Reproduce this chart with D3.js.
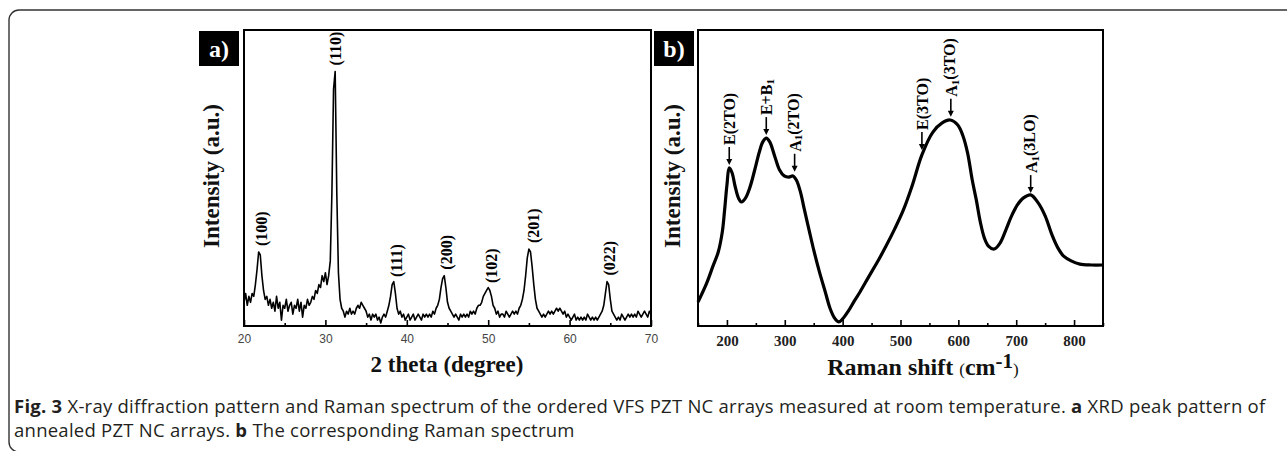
<!DOCTYPE html>
<html><head><meta charset="utf-8">
<script src="https://cdn.jsdelivr.net/npm/d3@7"></script>
<style>html,body{margin:0;padding:0;background:#fff;}svg{display:block;}</style>
</head><body>
<svg id="chart" width="1287" height="451"></svg>
<script>
// ---------- data ----------
const xrdStart = 20, xrdStep = 0.2;
const xrdIntensity = [
  8,11,7,10,8,11,10,14,19,25,
  24,17,12,9,10,7,9,6,8,5,
  10,6,8,2,7,6,9,5,7,8,
  4,7,6,9,5,8,3,7,6,9,
  7,8,10,9,12,11,14,13,17,15,
  18,14,17,22,45,80,86,45,18,9,
  6,5,3,5,4,6,4,5,4,6,
  7,6,8,7,6,5,3,4,2,4,
  3,4,2,3,1,3,4,3,5,7,
  10,14,15,11,6,4,5,3,4,2,
  3,4,2,3,4,2,3,4,3,2,
  4,3,4,3,4,3,5,4,6,7,
  9,13,16,17,13,8,6,5,4,3,
  4,3,2,4,3,4,3,4,3,5,
  4,5,4,6,7,7,8,10,11,12,
  13,12,10,7,6,4,5,3,4,4,
  3,5,4,3,4,5,4,5,4,6,
  7,9,12,17,23,26,25,20,14,9,
  6,5,4,3,4,3,4,5,4,5,
  4,5,6,5,6,5,4,5,3,4,
  3,2,3,4,2,3,2,3,2,3,
  2,4,3,2,3,2,3,2,3,4,
  5,7,11,15,14,9,5,4,3,2,
  3,2,4,3,2,3,4,3,4,3,
  4,3,5,4,3,4,5,4,3,5,
  4
];
const xrdPeakLabels = ["(100)","(110)","(111)","(200)","(102)","(201)","(022)"];
const xrdPeakPos    = [22.1, 31.2, 38.7, 44.9, 50.4, 55.6, 64.9];
const xrdPeakTop    = [25, 86, 14.5, 17, 12.5, 26, 15];
const xrdTicks = [20,30,40,50,60,70];
const xrdMinorTicks = [25,35,45,55,65];

const ramanShift = [150,165,176,185,192,196,200,204,209,214,220,225,232,240,248,256,262,268,274,283,291,299,307,314,320,327,334,342,350,360,370,378,386,393,400,410,420,430,445,460,475,490,505,520,537,556,572,586,599,608,616,624,631,638,645,652,662,672,682,692,702,712,725,738,750,762,772,782,795,810,830,850];
const ramanIntensity = [8.1,14.5,20.3,25,31.8,39.2,47.6,53.4,51.7,47.3,43.2,41.9,43.2,47,52.7,58.8,62.2,63.5,62.2,57.1,52.7,50.7,50.3,50.7,49.3,45.3,39.2,32.4,25.7,18.2,11.5,6.1,2.7,1.4,2.4,5.1,8.4,11.5,16.6,21.6,27,32.8,39.2,47.3,57.8,65.5,68.6,69.6,67.9,64.2,58.4,49.3,42.6,35.1,29.7,27,26,28,32.4,37.2,40.9,43.2,44.3,41.6,37.2,30.7,26.4,23.6,22,20.9,20.6,20.6];
const ramanMarkPos  = [204, 268, 317, 537, 587, 725];
const ramanMarkTop  = [54.4, 64.5, 52.1, 59.5, 70.7, 44.9];
const ramanLabelMain = ["E(2TO)","E+B","A","E(3TO)","A","A"];
const ramanLabelSub  = ["","1","1","","1","1"];
const ramanLabelRest = ["","","(2TO)","","(3TO)","(3LO)"];
const ramanTicks = [200,300,400,500,600,700,800];
const ramanMinorTicks = [150,250,350,450,550,650,750,850];

const captionLine1 = [["Fig. 3",true],[" X-ray diffraction pattern and Raman spectrum of the ordered VFS PZT NC arrays measured at room temperature. ",false],["a",true],[" XRD peak pattern of",false]];
const captionLine2 = [["annealed PZT NC arrays. ",false],["b",true],[" The corresponding Raman spectrum",false]];

// ---------- drawing ----------
const svg = d3.select("#chart");
const serif = "'Liberation Serif','Times New Roman',serif";

// outer frame
svg.append("rect").attr("x",9).attr("y",10).attr("width",1400).attr("height",442)
  .attr("rx",10).attr("fill","none").attr("stroke","#333").attr("stroke-width",1.4);

const yTop = 30, yBot = 326;

function panel(opts){
  const g = svg.append("g");
  const x = d3.scaleLinear().domain(opts.domain).range([opts.left, opts.right]);
  const y = d3.scaleLinear().domain([0,100]).range([yBot, yTop]);
  const ax = g.append("g").attr("transform",`translate(0,${yBot})`)
    .call(d3.axisBottom(x).tickValues(opts.ticks).tickSize(-6).tickPadding(opts.pad).tickFormat(d3.format("d")));
  ax.select(".domain").remove();
  ax.selectAll("line").attr("stroke","#000").attr("stroke-width",1.6);
  ax.selectAll("text").attr("font-family",opts.tickFont).attr("font-size",opts.tickSize)
    .attr("font-weight",opts.tickWeight).attr("fill",opts.tickColor);
  const mx = g.append("g").attr("transform",`translate(0,${yBot})`)
    .call(d3.axisBottom(x).tickValues(opts.minor).tickSize(-3).tickFormat(""));
  mx.select(".domain").remove();
  mx.selectAll("line").attr("stroke","#000").attr("stroke-width",1.6);
  g.append("rect").attr("x",opts.left).attr("y",yTop).attr("width",opts.right-opts.left).attr("height",yBot-yTop)
    .attr("fill","none").attr("stroke","#000").attr("stroke-width",2);
  g.append("rect").attr("x",opts.tagX).attr("y",31).attr("width",40).attr("height",35).attr("fill","#000");
  g.append("text").attr("x",opts.tagX+20).attr("y",57).attr("text-anchor","middle")
    .attr("font-family",serif).attr("font-weight","bold").attr("font-size",24).attr("fill","#fff").text(opts.tag);
  g.append("text").attr("transform",`translate(${opts.yLabX},176) rotate(-90)`).attr("text-anchor","middle")
    .attr("dominant-baseline","central").attr("font-family",serif).attr("font-weight","bold").attr("font-size",23)
    .attr("fill","#111").text("Intensity (a.u.)");
  return {g,x,y};
}

// Panel a
const A = panel({domain:[20,70], left:244, right:651, ticks:xrdTicks, minor:xrdMinorTicks, pad:8,
  tickFont:"'Liberation Sans',Arial,sans-serif", tickSize:12, tickWeight:"normal", tickColor:"#444",
  tag:"a)", tagX:199, yLabX:211});
A.g.append("path").datum(xrdIntensity)
  .attr("d", d3.line().x((d,i)=>A.x(xrdStart+i*xrdStep)).y(d=>A.y(d)))
  .attr("fill","none").attr("stroke","#000").attr("stroke-width",1.6).attr("stroke-linejoin","round");
A.g.selectAll("text.peak").data(xrdPeakLabels).join("text").attr("class","peak")
  .attr("transform",(d,i)=>`translate(${A.x(xrdPeakPos[i])},${A.y(xrdPeakTop[i])-6}) rotate(-90)`)
  .attr("dominant-baseline","central").attr("font-family",serif).attr("font-weight","bold").attr("font-size",16)
  .attr("fill","#000").text(d=>d);
svg.append("text").attr("x",447).attr("y",372).attr("text-anchor","middle").attr("font-family",serif)
  .attr("font-weight","bold").attr("font-size",23).attr("fill","#111").text("2 theta (degree)");

// Panel b
const B = panel({domain:[150,850], left:698, right:1103, ticks:ramanTicks, minor:ramanMinorTicks, pad:9,
  tickFont:serif, tickSize:15, tickWeight:"bold", tickColor:"#222",
  tag:"b)", tagX:654, yLabX:672});
B.g.append("path").datum(ramanShift.map((s,i)=>[s,ramanIntensity[i]]))
  .attr("d", d3.line().curve(d3.curveCatmullRom.alpha(0.5)).x(d=>B.x(d[0])).y(d=>B.y(d[1])))
  .attr("fill","none").attr("stroke","#000").attr("stroke-width",3.2).attr("stroke-linejoin","round");
const marks = B.g.selectAll("g.mark").data(ramanLabelMain).join("g").attr("class","mark")
  .attr("transform",(d,i)=>`translate(${B.x(ramanMarkPos[i])},${B.y(ramanMarkTop[i])})`);
marks.append("line").attr("x1",0).attr("x2",0).attr("y1",-18).attr("y2",-5).attr("stroke","#000").attr("stroke-width",1.6);
marks.append("path").attr("d","M-3,-6 L3,-6 L0,0 Z").attr("fill","#000");
const lbl = marks.append("text").attr("transform","translate(0,-20) rotate(-90)")
  .attr("dominant-baseline","central").attr("font-family",serif).attr("font-weight","bold").attr("font-size",16).attr("fill","#000");
lbl.append("tspan").text(d=>d);
lbl.append("tspan").attr("font-size",11).each(function(d,i){
  const s = ramanLabelSub[i];
  d3.select(this).text(s).attr("dy", s ? "0.35em" : null);
});
lbl.append("tspan").each(function(d,i){
  const r = ramanLabelRest[i];
  d3.select(this).text(r).attr("dy", ramanLabelSub[i] ? "-0.35em" : null);
});
const xl = svg.append("text").attr("x",923).attr("y",375).attr("text-anchor","middle").attr("font-family",serif)
  .attr("font-weight","bold").attr("fill","#111");
xl.append("tspan").attr("font-size",24).text("Raman shift ");
xl.append("tspan").attr("font-size",17).attr("font-weight","normal").text("(");
xl.append("tspan").attr("font-size",24).text("cm");
xl.append("tspan").attr("font-size",21).attr("dy","-7").text("-1");
xl.append("tspan").attr("font-size",17).attr("font-weight","normal").attr("dy","7").text(")");

// caption
function cap(line, y){
  const t = svg.append("text").attr("x",14).attr("y",y).attr("font-family","'Open Sans',sans-serif")
    .attr("font-size",18.5).attr("letter-spacing",0.25).attr("fill","#231f20");
  line.forEach(([s,b])=>t.append("tspan").attr("font-weight",b?"bold":"normal").text(s));
}
cap(captionLine1, 413);
cap(captionLine2, 437);
</script>
</body></html>
